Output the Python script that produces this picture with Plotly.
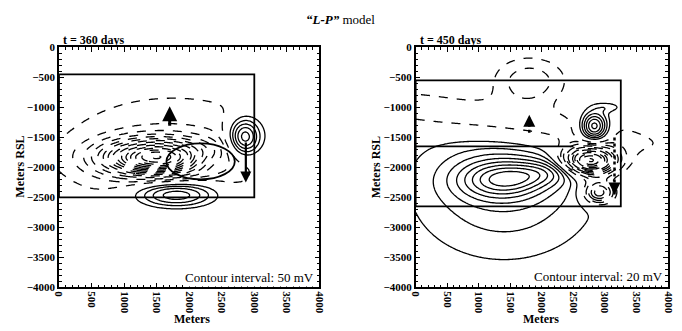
import numpy as np
import plotly.graph_objects as go

# ---------------- data ----------------
# Field sources (rotated Gaussian bumps) approximating each contoured map
# left panel: t = 360 days, interval 50 mV
L_cx = [1500, 1750, 2850, 1800, 2250, 3450]
L_cy = [-1830, -1750, -1500, -2450, -1900, -1700]
L_sx = [560, 1300, 170, 450, 260, 300]
L_sy = [200, 720, 220, 160, 150, 1000]
L_rot = [0, 0, 0, 0, 0, 0]
L_amp = [-650, -110, 340, 300, 120, 75]
L_interval = 50
L_ellipse = [1650, 2700, -1600, -2200]   # thick outlined body

# right panel: t = 450 days, interval 20 mV
R_cx = [1400, 1350, 2200, 2750, 2830, 2900, 1800, 3050, 1500]
R_cy = [-2350, -2200, -2070, -1900, -1320, -2420, -580, -1000, -1250]
R_sx = [1000, 480, 550, 300, 150, 170, 400, 160, 1800]
R_sy = [800, 230, 150, 170, 170, 130, 280, 60, 260]
R_rot = [0, 0, 6, 0, 0, 0, 0, 0, -9]
R_amp = [60, 100, 60, -280, 150, -130, -60, 30, -50]
R_interval = 20

# survey boxes [x0, x1, y0, y1]
L_box = [0, 3000, -450, -2500]
R_box = [0, 3250, -550, -2650]
R_inner_y = -1650
R_inner_x1 = 2500

# flow arrows [x, y_from, y_to]
L_arrows = [[1700, -1330, -980], [2870, -1560, -2250]]
R_arrows = [[1800, -1420, -1120], [3150, -1500, -2450]]

x_ticks = [0, 500, 1000, 1500, 2000, 2500, 3000, 3500, 4000]
y_ticks = [0, -500, -1000, -1500, -2000, -2500, -3000, -3500, -4000]

gx = np.linspace(0, 4000, 161)
gy = np.linspace(-4000, 0, 161)
X, Y = np.meshgrid(gx, gy)


def field(cx, cy, sx, sy, rot, amp):
    z = np.zeros_like(X)
    for a, b, c, d, r, e in zip(cx, cy, sx, sy, rot, amp):
        t = np.deg2rad(r)
        u = (X - a) * np.cos(t) + (Y - b) * np.sin(t)
        v = -(X - a) * np.sin(t) + (Y - b) * np.cos(t)
        z += e * np.exp(-(u ** 2) / (2 * c ** 2) - (v ** 2) / (2 * d ** 2))
    return z


ZL = field(L_cx, L_cy, L_sx, L_sy, L_rot, L_amp)
ZR = field(R_cx, R_cy, R_sx, R_sy, R_rot, R_amp)

FONT = "Liberation Serif"
fig = go.Figure()
black = [[0, "black"], [1, "black"]]


def add_contours(z, step, xa, ya):
    zmax, zmin = float(z.max()), float(z.min())
    nstart = -step * np.floor(-zmin / step)
    fig.add_trace(go.Contour(x=gx, y=gy, z=z, xaxis=xa, yaxis=ya,
                             contours=dict(coloring="lines", start=step, end=zmax, size=step),
                             colorscale=black, showscale=False,
                             line=dict(width=1.3, smoothing=1.0), hoverinfo="skip"))
    fig.add_trace(go.Contour(x=gx, y=gy, z=z, xaxis=xa, yaxis=ya,
                             contours=dict(coloring="lines", start=nstart, end=-step, size=step),
                             colorscale=black, showscale=False,
                             line=dict(width=1.3, dash="dash", smoothing=1.0), hoverinfo="skip"))


add_contours(ZL, L_interval, "x", "y")
add_contours(ZR, R_interval, "x2", "y2")

axis_common = dict(showline=True, linecolor="black", linewidth=1.5, mirror="ticks",
                   ticks="inside", ticklen=5, tickwidth=1.2, tickcolor="black",
                   showgrid=False, zeroline=False,
                   minor=dict(ticks="inside", ticklen=3, dtick=100, tickcolor="black", showgrid=False),
                   tickfont=dict(family=FONT, size=11, color="black", weight="bold"))

xd_L = [54 / 682, 319 / 682]
xd_R = [417 / 682, 674 / 682]
yd = [1 - 292 / 331, 1 - 43 / 331]

fig.update_layout(
    width=682, height=331, margin=dict(l=0, r=0, t=0, b=0),
    paper_bgcolor="white", plot_bgcolor="white", showlegend=False,
    xaxis=dict(axis_common, domain=xd_L, range=[0, 4000], tickvals=x_ticks, tickangle=90, anchor="y"),
    yaxis=dict(axis_common, domain=yd, range=[-4000, 0], tickvals=y_ticks, anchor="x"),
    xaxis2=dict(axis_common, domain=xd_R, range=[0, 4000], tickvals=x_ticks, tickangle=90, anchor="y2"),
    yaxis2=dict(axis_common, domain=yd, range=[-4000, 0], tickvals=y_ticks, anchor="x2"),
)

shapes = []
for xr, yr, box in (("x", "y", L_box), ("x2", "y2", R_box)):
    shapes.append(dict(type="rect", xref=xr, yref=yr, x0=box[0], x1=box[1], y0=box[2], y1=box[3],
                       line=dict(color="black", width=1.8)))
shapes.append(dict(type="line", xref="x2", yref="y2", x0=0, x1=R_inner_x1, y0=R_inner_y, y1=R_inner_y,
                   line=dict(color="black", width=1.8)))
shapes.append(dict(type="circle", xref="x", yref="y", x0=L_ellipse[0], x1=L_ellipse[1],
                   y0=L_ellipse[2], y1=L_ellipse[3], line=dict(color="black", width=1.8)))
fig.update_layout(shapes=shapes)

ann = []
for i, a in enumerate(L_arrows):
    ann.append(dict(x=a[0], y=a[2], ax=a[0], ay=a[1], xref="x", yref="y", axref="x", ayref="y",
                    text="", showarrow=True, arrowhead=2, arrowsize=1, arrowwidth=3 if i == 0 else 2.2,
                    arrowcolor="black"))
for a in R_arrows:
    fig.add_trace(go.Scatter(x=[a[0], a[0]], y=[a[1], a[2]], xaxis="x2", yaxis="y2", mode="lines",
                             line=dict(color="black", width=2.5, dash="dot"), hoverinfo="skip"))
    d = 1 if a[2] > a[1] else -1
    ann.append(dict(x=a[0], y=a[2], ax=a[0], ay=a[2] - d * 120, xref="x2", yref="y2", axref="x2", ayref="y2",
                    text="", showarrow=True, arrowhead=2, arrowsize=1.2, arrowwidth=2, arrowcolor="black"))


def txt(text, x, y, size=12, xa="center", bg=None, angle=0):
    d = dict(text=text, x=x / 682, y=1 - y / 331, xref="paper", yref="paper", xanchor=xa,
             yanchor="middle", showarrow=False, textangle=angle,
             font=dict(family=FONT, size=size, color="black"))
    if bg:
        d["bgcolor"] = bg
    ann.append(d)


txt("<b><i>\u201cL-P\u201d</i></b> model", 340, 14, size=13)
txt("<b>t = 360 days</b>", 56, 35, xa="left")
txt("<b>t = 450 days</b>", 419, 35, xa="left")
txt("Contour interval: 50 mV", 316, 282, size=13, xa="right", bg="white")
txt("Contour interval: 20 mV", 671, 281, size=13, xa="right", bg="white")
txt("<b>Meters</b>", 189, 325)
txt("<b>Meters</b>", 545, 325)
txt("<b>Meters RSL</b>", 14, 167, angle=-90)
txt("<b>Meters RSL</b>", 377, 167, angle=-90)
fig.update_layout(annotations=ann)

fig.write_html("out.html")
